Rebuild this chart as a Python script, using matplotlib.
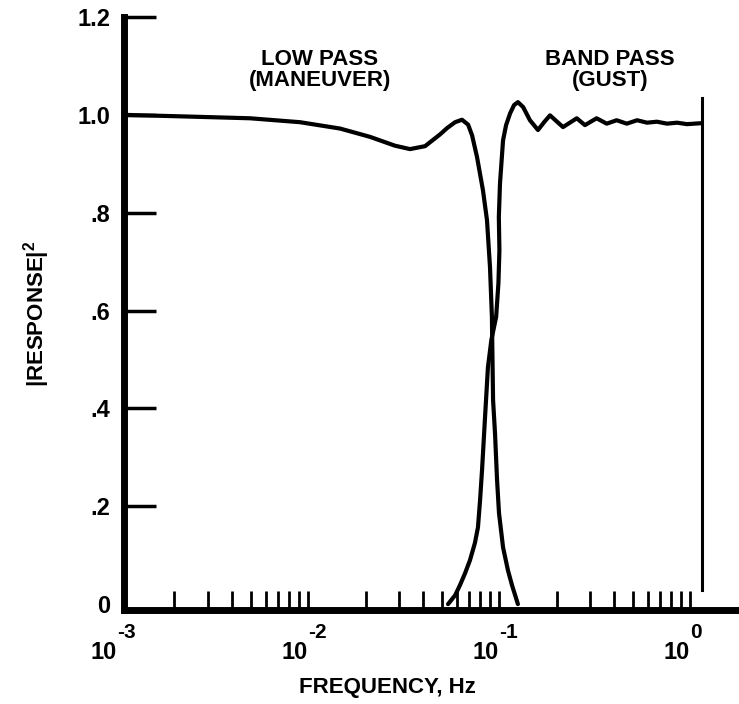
import numpy as np
import matplotlib
matplotlib.use('Agg')
import matplotlib.pyplot as plt
from matplotlib.ticker import FixedLocator, NullFormatter
from matplotlib.transforms import blended_transform_factory

plt.rcParams['font.family'] = ['Liberation Sans', 'DejaVu Sans']
plt.rcParams['font.weight'] = 'bold'
plt.rcParams['mathtext.fontset'] = 'custom'
plt.rcParams['mathtext.rm'] = 'Liberation Sans:bold'
plt.rcParams['mathtext.bf'] = 'Liberation Sans:bold'
plt.rcParams['mathtext.it'] = 'Liberation Sans:bold'
plt.rcParams['mathtext.sf'] = 'Liberation Sans:bold'

# ---- data ----
lp_freq = [0.00109, 0.00214, 0.00497, 0.00908, 0.01472, 0.02113, 0.02851, 0.0342,
           0.0410, 0.0491, 0.0535, 0.0589, 0.0640, 0.0689, 0.0723, 0.0767, 0.0824,
           0.0865, 0.0897, 0.0918, 0.0923, 0.0931, 0.0953, 0.0977, 0.1000, 0.1050,
           0.1114, 0.1169, 0.1256]
lp_resp = [1.0, 0.997, 0.993, 0.985, 0.972, 0.955, 0.937, 0.930,
           0.936, 0.960, 0.973, 0.985, 0.990, 0.980, 0.958, 0.914, 0.846,
           0.785, 0.689, 0.587, 0.519, 0.417, 0.349, 0.253, 0.186, 0.116,
           0.069, 0.039, 0.0]

bp_freq = [0.0541, 0.0589, 0.0625, 0.0664, 0.0705, 0.0748, 0.0776, 0.0796, 0.0815,
           0.0845, 0.0875, 0.0912, 0.0966, 0.0993, 0.1005, 0.0998, 0.1012, 0.1050,
           0.1089, 0.1143, 0.1199, 0.1256, 0.1337, 0.1452, 0.1600, 0.1722, 0.1849,
           0.2163, 0.2553, 0.2818, 0.3243, 0.3664, 0.4130, 0.4667, 0.5284, 0.5957,
           0.6714, 0.7578, 0.8551, 0.9638, 1.15]
bp_resp = [0.0, 0.018, 0.039, 0.063, 0.090, 0.125, 0.157, 0.213, 0.274,
           0.382, 0.484, 0.540, 0.587, 0.656, 0.723, 0.791, 0.860, 0.948,
           0.979, 1.003, 1.020, 1.026, 1.016, 0.989, 0.969, 0.985, 0.999,
           0.975, 0.993, 0.979, 0.993, 0.982, 0.989, 0.982, 0.989, 0.984,
           0.986, 0.982, 0.984, 0.981, 0.983]

cutoff_freq = 1.15
cutoff_span = [0.029, 1.034]

y_ticks = [0, 0.2, 0.4, 0.6, 0.8, 1.0, 1.2]
y_tick_labels = ['0', '.2', '.4', '.6', '.8', '1.0', '1.2']
x_decades = [1e-3, 1e-2, 1e-1, 1e0]
x_tick_base = ['10', '10', '10', '10']
x_tick_exp = ['-3', '-2', '-1', '0']

x_left = 10 ** -2.9634
x_right = 10 ** 0.2565

# ---- figure ----
fig = plt.figure(figsize=(7.39, 7.04), dpi=100)
ax = fig.add_axes([117 / 739, 94 / 704, 622 / 739, 593 / 704])
ax.set_xscale('log')
ax.set_xlim(1e-3, x_right)
ax.set_ylim(-0.012, 1.2)

for s in ('top', 'right'):
    ax.spines[s].set_visible(False)
ax.spines['left'].set_position(('data', x_left))
ax.spines['left'].set_linewidth(5)
ax.spines['bottom'].set_linewidth(5)
ax.spines['bottom'].set_bounds(x_left, x_right)
for s in ('left', 'bottom'):
    ax.spines[s].set_capstyle('projecting')

ax.set_yticks(y_ticks, y_tick_labels)
ax.tick_params(axis='y', direction='in', length=23, width=2.5, pad=10,
               labelsize=17)
ax.yaxis.get_major_ticks()[0].tick1line.set_visible(False)

ax.set_xticks(x_decades, x_tick_base)
for lbl in ax.get_xticklabels():
    lbl.set_horizontalalignment('right')
minor = [m * d for d in x_decades for m in range(1, 10)
         if x_left < m * d <= x_right and not (m == 1 and d == 1e-3)]
ax.xaxis.set_minor_locator(FixedLocator(minor))
ax.xaxis.set_minor_formatter(NullFormatter())
ax.xaxis.remove_overlapping_locs = False
ax.tick_params(axis='x', which='major', length=0, pad=22, labelsize=17)
ax.tick_params(axis='x', which='minor', direction='in', length=14, width=2)

# exponents of the decade labels
trans = blended_transform_factory(ax.transData, ax.transAxes)
for d, e in zip(x_decades, x_tick_exp):
    ax.text(d, -0.022, e, transform=trans, ha='left', va='top', fontsize=15,
            fontweight='bold', clip_on=False)

ax.plot(lp_freq, lp_resp, color='black', lw=3, solid_joinstyle='round',
        solid_capstyle='round')
ax.plot(bp_freq, bp_resp, color='black', lw=3, solid_joinstyle='round',
        solid_capstyle='round')
ax.plot([cutoff_freq, cutoff_freq], cutoff_span, color='black', lw=2.2)

ax.text(0.01156, 1.102, 'LOW PASS', ha='center', va='baseline', fontsize=16,
        fontweight='bold')
ax.text(0.01156, 1.059, '(MANEUVER)', ha='center', va='baseline', fontsize=16,
        fontweight='bold')
ax.text(0.381, 1.102, 'BAND PASS', ha='center', va='baseline', fontsize=16,
        fontweight='bold')
ax.text(0.381, 1.059, '(GUST)', ha='center', va='baseline', fontsize=16,
        fontweight='bold')

ax.set_xlabel('FREQUENCY, Hz', fontsize=16, fontweight='bold')
ax.xaxis.set_label_coords(0.434, -0.113)
ax.set_ylabel(r'|RESPONSE|$^{2}$', fontsize=16, fontweight='bold')
ax.yaxis.set_label_coords(-0.105, 0.5)

fig.savefig('out.png', dpi=100)
